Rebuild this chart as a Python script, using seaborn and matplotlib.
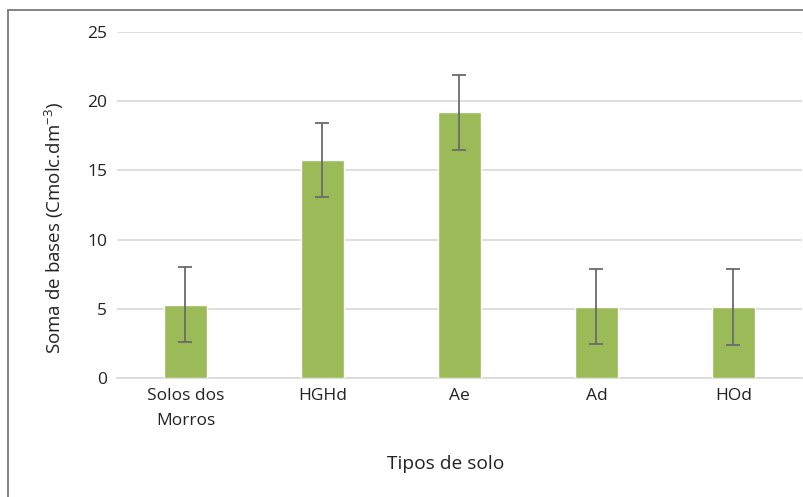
import matplotlib
matplotlib.use("Agg")
import matplotlib.pyplot as plt
from matplotlib.lines import Line2D
import seaborn as sns
import pandas as pd

# Soil types and mean sum of bases with standard deviation
categorias = ["Solos dos\nMorros", "HGHd", "Ae", "Ad", "HOd"]
medias = [5.3, 15.75, 19.2, 5.15, 5.1]
desvios = [2.7, 2.7, 2.7, 2.7, 2.75]
yticks = [0, 5, 10, 15, 20, 25]

sns.set_theme(style="white")
plt.rcParams["font.family"] = ["Open Sans", "DejaVu Sans"]
plt.rcParams["mathtext.fontset"] = "custom"
plt.rcParams["mathtext.rm"] = "Open Sans"
plt.rcParams["mathtext.default"] = "rm"

df = pd.DataFrame({"tipo": categorias, "valor": medias})

fig = plt.figure(figsize=(8.04, 4.97), dpi=100)
ax = fig.add_axes([0.1455, 0.2394, 0.852, 0.6962])

sns.barplot(data=df, x="tipo", y="valor", color="#9BBB59", width=0.31,
            errorbar=None, ax=ax, saturation=1, zorder=3)
ax.errorbar(range(len(categorias)), medias, yerr=desvios, fmt="none",
            ecolor="#6b6b6b", elinewidth=1.3, capsize=5, capthick=1.3, zorder=4)

ax.set_xlim(-0.5, len(categorias) - 0.5)
ax.set_ylim(0, 25)
ax.set_yticks(yticks)
ax.yaxis.grid(True, color="#d9d9d9", linewidth=1.2, zorder=0)
ax.set_axisbelow(True)
for s in ["top", "right", "left"]:
    ax.spines[s].set_visible(False)
ax.spines["bottom"].set_color("#d9d9d9")
ax.spines["bottom"].set_linewidth(1.2)
ax.tick_params(axis="both", length=0, labelsize=12.5, colors="#222222", pad=7)
for lbl in ax.get_xticklabels():
    lbl.set_linespacing(1.75)

ax.set_xlabel("Tipos de solo", fontsize=13.8, color="#222222")
ax.set_ylabel("Soma de bases (Cmolc.dm$^{-3}$)", fontsize=13.5, color="#222222")
ax.xaxis.set_label_coords(0.480, -0.222)
ax.yaxis.set_label_coords(-0.074, 0.4335)

# outer frame lines
fig.add_artist(Line2D([8 / 804, 8 / 804], [0, 1 - 10 / 497], transform=fig.transFigure,
                      color="#7a7a7a", linewidth=1.3))
fig.add_artist(Line2D([8 / 804, 1], [1 - 10 / 497, 1 - 10 / 497], transform=fig.transFigure,
                      color="#7a7a7a", linewidth=1.3))

fig.savefig("out.png", dpi=100)
